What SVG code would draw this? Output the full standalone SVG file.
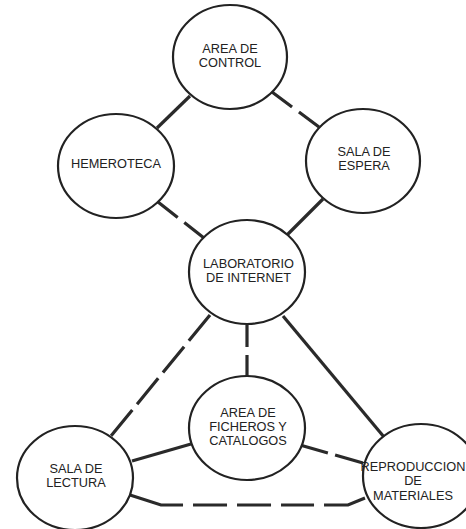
<svg xmlns="http://www.w3.org/2000/svg" width="466" height="529" viewBox="0 0 466 529">
<style>
.node ellipse{fill:#fff;stroke:#222;stroke-width:2.2}
.node text{font-family:"Liberation Sans",Arial,sans-serif;font-size:12.75px;fill:#222;text-anchor:middle}
#connectors line,#connectors polyline{stroke:#2a2a2a;stroke-width:3.2;fill:none;stroke-linecap:butt}
</style>
<rect width="466" height="529" fill="#fff"/>
<g id="connectors">
<line x1="157" y1="128" x2="190" y2="96"/>
<line x1="272" y1="92" x2="319" y2="127" stroke-dasharray="25 8.6"/>
<line x1="158" y1="202" x2="204" y2="238" stroke-dasharray="25 8.4"/>
<line x1="323" y1="199" x2="287" y2="235"/>
<line x1="210" y1="315" x2="111" y2="436" stroke-dasharray="33.4 7.5"/>
<line x1="247" y1="325" x2="247" y2="377" stroke-dasharray="22 8"/>
<line x1="283" y1="316" x2="384" y2="437"/>
<line x1="191" y1="444" x2="132" y2="461"/>
<line x1="300" y1="445" x2="363" y2="463" stroke-dasharray="29 7.5"/>
<polyline points="130,495 161,505 348,505 365,498" stroke-dasharray="54.6 10 34 10 34 10 33 10 50"/>
</g>
<g id="area-control" class="node">
<ellipse cx="230" cy="57" rx="57" ry="52"/>
<text x="230" y="52.5">AREA DE</text>
<text x="230" y="66.5">CONTROL</text>
</g>
<g id="hemeroteca" class="node">
<ellipse cx="116" cy="166" rx="58" ry="52"/>
<text x="116" y="168">HEMEROTECA</text>
</g>
<g id="sala-espera" class="node">
<ellipse cx="363" cy="161" rx="57" ry="52"/>
<text x="364" y="155.5">SALA DE</text>
<text x="364" y="169.5">ESPERA</text>
</g>
<g id="laboratorio" class="node">
<ellipse cx="247" cy="272" rx="58" ry="52"/>
<text x="248.5" y="267.5">LABORATORIO</text>
<text x="248.5" y="282">DE INTERNET</text>
</g>
<g id="ficheros" class="node">
<ellipse cx="247" cy="428" rx="58" ry="52"/>
<text x="248" y="417">AREA DE</text>
<text x="248" y="430.5">FICHEROS Y</text>
<text x="248" y="444.5">CATALOGOS</text>
</g>
<g id="sala-lectura" class="node">
<ellipse cx="75" cy="478" rx="58" ry="52"/>
<text x="76" y="473">SALA DE</text>
<text x="76" y="486.5">LECTURA</text>
</g>
<g id="reproduccion" class="node">
<ellipse cx="421" cy="476" rx="58" ry="52"/>
<text x="413" y="471">REPRODUCCION</text>
<text x="413" y="485">DE</text>
<text x="413" y="499.5">MATERIALES</text>
</g>
</svg>
